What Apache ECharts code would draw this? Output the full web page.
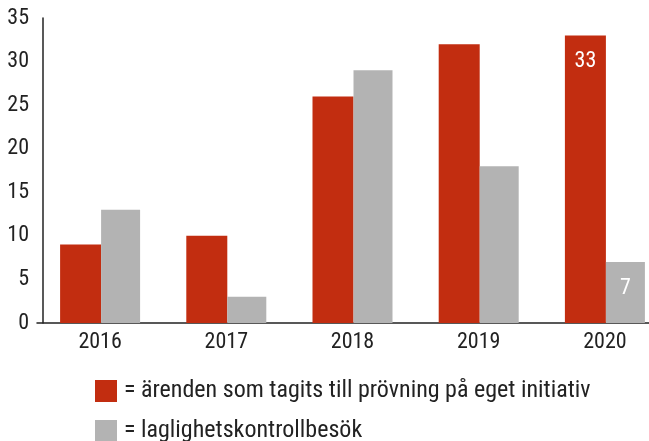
<!DOCTYPE html>
<html>
<head>
<meta charset="utf-8">
<script src="https://cdn.jsdelivr.net/npm/echarts@6/dist/echarts.min.js"></script>
<style>
  html, body { margin: 0; padding: 0; background: #fff; }
  #chart { width: 649px; height: 441px; }
</style>
</head>
<body>
<div id="chart"></div>
<script>
// data
const years = ['2016', '2017', '2018', '2019', '2020']
const egetInitiativ = [9, 10, 26, 32, 33]
const laglighetskontroll = [13, 3, 29, 18, 7]
const yTicks = { min: 0, max: 35, interval: 5 }
const seriesNames = [
  '= ärenden som tagits till prövning på eget initiativ',
  '= laglighetskontrollbesök',
]

const FONT = '"Roboto Condensed", Roboto, sans-serif'
const TEXT = '#222'
const RED = '#c22d10'
const GREY = '#b3b3b3'

// only the last year carries a value label
function withLastLabel(values) {
  return values.map((v, i) => {
    if (i !== values.length - 1) return v
    return {
      value: v,
      label: {
        show: true,
        position: 'insideTop',
        distance: 15,
        color: '#fff',
        fontSize: 22,
        fontFamily: FONT,
      },
    }
  })
}

// one legend per line, so they stack exactly
function legendRow(name, top) {
  return {
    data: [name],
    left: 95,
    top: top,
    padding: 0,
    itemWidth: 22,
    itemHeight: 22,
    itemGap: 0,
    icon: 'rect',
    textStyle: { fontSize: 24, color: TEXT, fontFamily: FONT, padding: [0, 0, 0, 2] },
  }
}

const chart = echarts.init(document.getElementById('chart'))
chart.setOption({
  animation: false,
  textStyle: { fontFamily: FONT },
  // the plot runs past the right edge of the picture
  grid: { left: 37, width: 631, top: 18, bottom: 118, outerBoundsMode: 'none', containLabel: false },
  legend: [legendRow(seriesNames[0], 379), legendRow(seriesNames[1], 419)],
  xAxis: {
    type: 'category',
    data: years,
    axisLine: { lineStyle: { color: TEXT, width: 1.5 } },
    axisTick: { show: false },
    axisLabel: { color: TEXT, fontSize: 22, margin: 8, fontFamily: FONT },
  },
  yAxis: {
    type: 'value',
    min: yTicks.min,
    max: yTicks.max,
    interval: yTicks.interval,
    offset: -6,
    axisLine: { show: true, lineStyle: { color: TEXT, width: 1.5 } },
    axisTick: { show: false },
    splitLine: { show: false },
    axisLabel: { color: TEXT, fontSize: 22, margin: 14, fontFamily: FONT },
  },
  series: [
    {
      name: seriesNames[0],
      type: 'bar',
      data: withLastLabel(egetInitiativ),
      barWidth: 41,
      barGap: '0%',
      itemStyle: { color: RED },
    },
    {
      name: seriesNames[1],
      type: 'bar',
      data: withLastLabel(laglighetskontroll),
      barWidth: 39,
      barGap: '0%',
      itemStyle: { color: GREY },
    },
  ],
})
</script>
</body>
</html>
